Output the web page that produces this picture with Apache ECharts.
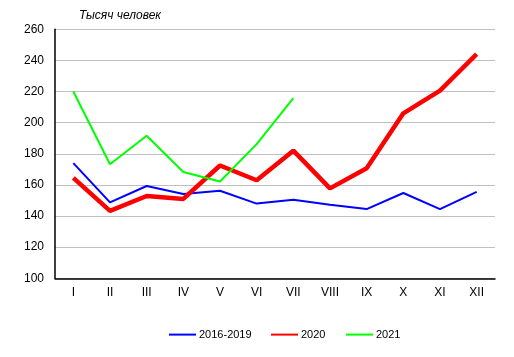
<!DOCTYPE html>
<html><head><meta charset="utf-8">
<script src="https://cdn.jsdelivr.net/npm/echarts@6/dist/echarts.min.js"></script>
<style>html,body{margin:0;padding:0;background:#fff}#c{width:514px;height:357px}</style>
</head><body><div id="c"></div>
<script>
const months = ['I','II','III','IV','V','VI','VII','VIII','IX','X','XI','XII'];
const avg2016_2019 = [174, 148.8, 159.3, 154.2, 156.3, 148, 150.5, 147.3, 144.5, 154.8, 144.5, 155.5];
const y2020 = [164.5, 143.3, 152.9, 151, 172.5, 163, 182, 157.8, 170.7, 206, 220.6, 244];
const y2021 = [220, 173.3, 191.6, 168.3, 162.2, 186.2, 215.7];
const seriesNames = ['2016-2019', '2020', '2021'];
const font = 'Liberation Sans, Arial, sans-serif';
const legendLefts = [168, 270, 345];
const chart = echarts.init(document.getElementById('c'));
chart.setOption({
  animation: false,
  title: {text: 'Тысяч человек', left: 79, top: 10, padding: 0, textStyle: {fontFamily: font, fontSize: 12, fontStyle: 'italic', fontWeight: 'normal', color: '#000'}},
  grid: {left: 55, right: 19, top: 29.3, bottom: 78.7},
  legend: seriesNames.map((n, i) => ({
    left: legendLefts[i], top: 329, padding: 0, itemWidth: 27, itemHeight: 14,
    itemStyle: {opacity: 0},
    textStyle: {fontFamily: font, fontSize: 11, color: '#000', padding: [0,0,0,-2]},
    data: [n]
  })),
  xAxis: {type: 'category', data: months, boundaryGap: true,
    axisLine: {lineStyle: {color: '#000', width: 1.5}}, axisTick: {show: false},
    axisLabel: {fontFamily: font, fontSize: 12, color: '#000', margin: 8}},
  yAxis: {type: 'value', min: 100, max: 260, interval: 20,
    axisLine: {show: true, lineStyle: {color: '#000', width: 1.5}}, axisTick: {show: false},
    splitLine: {lineStyle: {color: '#c0c0c0', width: 1.2}},
    axisLabel: {fontFamily: font, fontSize: 12, color: '#000', margin: 11}},
  series: [
    {name: seriesNames[0], type: 'line', data: avg2016_2019, symbol: 'none', lineStyle: {color: '#0000ff', width: 2}, itemStyle: {color: '#0000ff'}},
    {name: seriesNames[1], type: 'line', data: y2020, symbol: 'none', lineStyle: {color: '#ff0000', width: 4.5}, itemStyle: {color: '#ff0000'}, z: 3},
    {name: seriesNames[2], type: 'line', data: y2021, symbol: 'none', lineStyle: {color: '#00ff00', width: 2}, itemStyle: {color: '#00ff00'}, z: 4}
  ]
});
</script></body></html>
